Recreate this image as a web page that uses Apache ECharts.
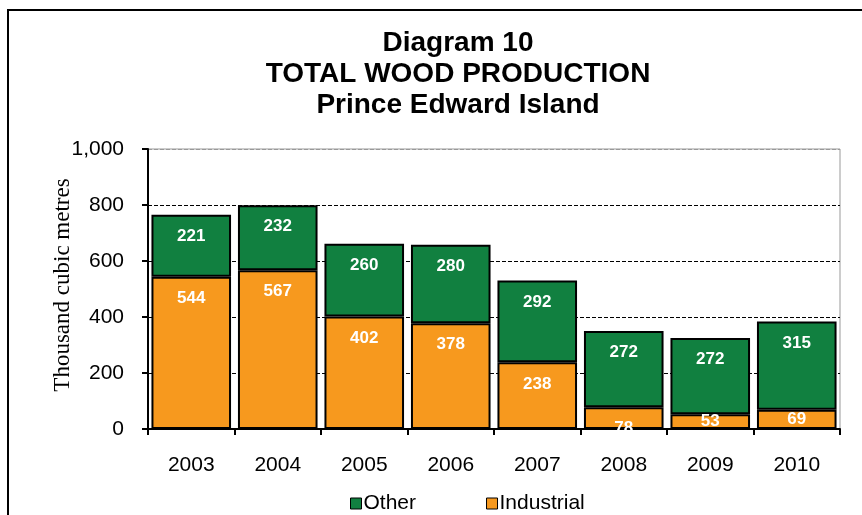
<!DOCTYPE html>
<html>
<head>
<meta charset="utf-8">
<script src="https://cdn.jsdelivr.net/npm/echarts@6/dist/echarts.min.js"></script>
<style>
html, body { margin: 0; padding: 0; background: #fff; }
#chart { width: 862px; height: 515px; }
</style>
</head>
<body>
<div id="chart"></div>
<script>
var years = ['2003', '2004', '2005', '2006', '2007', '2008', '2009', '2010'];
var industrial = [544, 567, 402, 378, 238, 78, 53, 69];
var other = [221, 232, 260, 280, 292, 272, 272, 315];

var myChart = echarts.init(document.getElementById('chart'));

var labelStyle = {
    show: true,
    position: 'insideTop',
    distance: 13,
    color: '#fff',
    fontFamily: 'Liberation Sans, Arial',
    fontWeight: 'bold',
    fontSize: 17
};

// very thin segments get their label centred instead
function withLabels(values) {
    return values.map(function (v) {
        if (v < 75) {
            return { value: v, label: { position: 'inside' } };
        }
        return v;
    });
}

var option = {
    animation: false,
    backgroundColor: '#fff',
    title: {
        text: 'Diagram 10\nTOTAL WOOD PRODUCTION\nPrince Edward Island',
        left: 453,
        textAlign: 'center',
        top: 23,
        textStyle: {
            fontFamily: 'Liberation Sans, Arial',
            fontWeight: 'bold',
            fontSize: 28,
            lineHeight: 31,
            color: '#000'
        }
    },
    graphic: [{
        type: 'rect',
        shape: { x: 8, y: 10, width: 880, height: 540 },
        style: { fill: 'none', stroke: '#000', lineWidth: 2 },
        silent: true
    }],
    legend: {
        data: ['Other', 'Industrial'],
        left: 345,
        top: 488,
        itemWidth: 11,
        itemHeight: 11,
        itemGap: 70,
        icon: 'rect',
        itemStyle: { borderColor: '#000', borderWidth: 1 },
        textStyle: {
            fontFamily: 'Liberation Sans, Arial',
            fontSize: 21,
            color: '#000',
            padding: [0, 0, 0, -3]
        }
    },
    grid: {
        left: 148,
        right: 22,
        top: 149,
        bottom: 86,
        show: true,
        borderColor: '#999',
        borderWidth: 1
    },
    xAxis: {
        type: 'category',
        data: years,
        axisLine: { lineStyle: { color: '#000', width: 2 } },
        axisTick: { show: true, length: 6, lineStyle: { color: '#000', width: 2 } },
        axisLabel: {
            margin: 26,
            fontFamily: 'Liberation Sans, Arial',
            fontSize: 21,
            color: '#000'
        }
    },
    yAxis: {
        type: 'value',
        min: 0,
        max: 1000,
        interval: 200,
        name: 'Thousand cubic metres',
        nameLocation: 'middle',
        nameGap: 74,
        nameMoveOverlap: false,
        nameTextStyle: {
            fontFamily: 'Liberation Serif, Times New Roman',
            fontSize: 23,
            color: '#000',
            padding: [0, 0, 0, 8]
        },
        axisLine: { show: true, lineStyle: { color: '#000', width: 2 } },
        axisTick: { show: true, length: 6, lineStyle: { color: '#000', width: 2 } },
        splitLine: {
            show: true,
            lineStyle: { type: 'dashed', color: ['#000', '#000', '#000', '#000', '#000', '#999'], width: 1 }
        },
        axisLabel: {
            margin: 24,
            fontFamily: 'Liberation Sans, Arial',
            fontSize: 21,
            color: '#000',
            formatter: function (v) { return v.toLocaleString('en-US'); }
        }
    },
    series: [{
        name: 'Industrial',
        type: 'bar',
        stack: 'total',
        data: withLabels(industrial),
        barCategoryGap: '8%',
        itemStyle: { color: '#F7991E', borderColor: '#000', borderWidth: 2 },
        label: labelStyle
    }, {
        name: 'Other',
        type: 'bar',
        stack: 'total',
        data: withLabels(other),
        barCategoryGap: '8%',
        itemStyle: { color: '#118040', borderColor: '#000', borderWidth: 2 },
        label: labelStyle
    }]
};

myChart.setOption(option);
</script>
</body>
</html>
